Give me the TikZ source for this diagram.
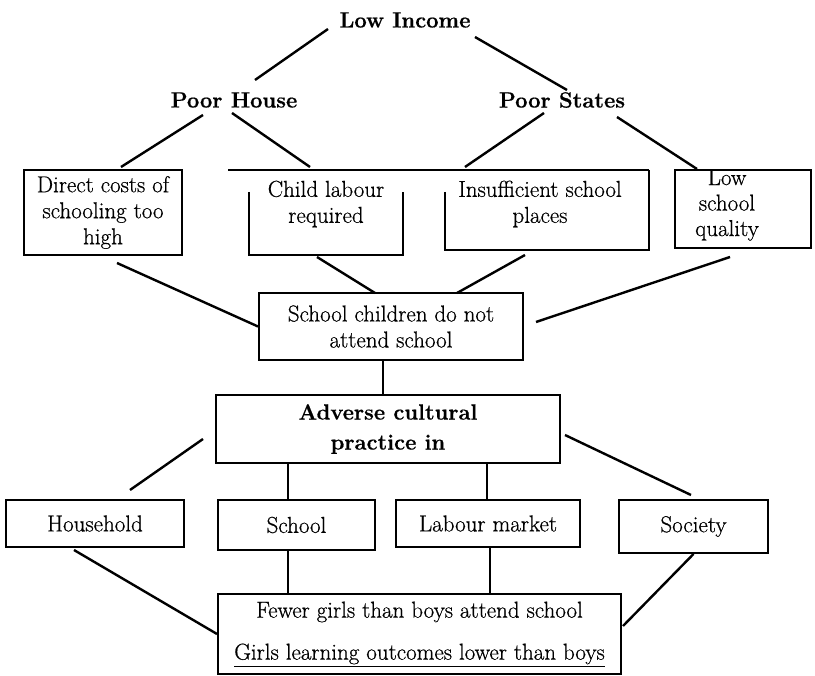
\documentclass[tikz,border=0pt]{standalone}
\usepackage{fontspec}
\newfontfamily\bodyfont{Latin Modern Roman}[FakeBold=0.6]
\begin{document}
\begin{tikzpicture}[x=1pt,y=-1pt,
  every node/.style={font=\bodyfont\fontsize{23}{26}\selectfont, inner sep=0pt},
  head/.style={font=\bodyfont\fontsize{22}{27}\selectfont\bfseries},
  box/.style={draw, line width=2pt, rectangle, align=center},
  conn/.style={line width=2.4pt},
  thin/.style={line width=2pt}]
\useasboundingbox (0,0) rectangle (815,676);
% headings
\node[head] (li) at (405,20) {Low Income};
\node[head] (ph) at (234,100) {Poor House};
\node[head] (ps) at (562,100) {Poor States};
% row 2
\node[box, minimum width=158pt, minimum height=85pt] (direct) at (103,212.5) {Direct costs of\\schooling too\\high};
\node[align=center] (child) at (326,204) {Child labour\\required};
\node[align=center] (ins) at (540,204) {Insufficient school\\places};
\node[draw, line width=2pt, minimum width=136pt, minimum height=78pt] (lowq) at (743,209) {};
\begin{scope}
  \clip (676,171.5) rectangle (811,247);
  \node[align=center, font=\bodyfont\fontsize{23}{25.5}\selectfont] (lowqt) at (727,205) {Low\\school\\quality};
\end{scope}
% partial boxes
\coordinate (tl1) at (228,170);
\coordinate (tl2) at (649,170);
\draw[thin] (tl1) -- (tl2);
\coordinate (cl1) at (249,192);
\coordinate (cl2) at (249,255);
\coordinate (cl3) at (403,255);
\coordinate (cl4) at (403,192);
\draw[thin] (cl1) -- (cl2) -- (cl3) -- (cl4);
\coordinate (is1) at (445,192);
\coordinate (is2) at (445,250);
\coordinate (is3) at (649,250);
\draw[thin] (is1) -- (is2) -- (is3) -- (tl2);
% row 3
\node[box, minimum width=264pt, minimum height=67pt] (sc) at (391,326.5) {School children do not\\attend school};
\node[box, minimum width=344pt, minimum height=68pt, font=\bodyfont\fontsize{22}{30}\selectfont\bfseries] (ad) at (388,429) {Adverse cultural\\practice in};
% row 4
\node[box, minimum width=178pt, minimum height=47pt] (hh) at (95,523.5) {Household};
\node[box, minimum width=157pt, minimum height=50pt] (sch) at (296.5,525) {School};
\node[box, minimum width=184pt, minimum height=47pt] (lab) at (488,523.5) {Labour market};
\node[box, minimum width=149pt, minimum height=53pt] (soc) at (693.5,526.5) {Society};
% bottom
\node[box, minimum width=403pt, minimum height=80pt] (bot) at (419.5,634) {Fewer girls than boys attend school\\[16pt]\underline{Girls learning outcomes lower than boys}};
% connectors top
\coordinate (a1) at (328,29); \coordinate (a2) at (255,80);
\coordinate (b1) at (475,37); \coordinate (b2) at (567,90);
\draw[conn] (a1) -- (a2);
\draw[conn] (b1) -- (b2);
\coordinate (c1) at (203,115); \coordinate (c2) at (121,167);
\coordinate (d1) at (232,113); \coordinate (d2) at (310,167);
\coordinate (e1) at (544,113); \coordinate (e2) at (465,167);
\coordinate (f1) at (617,117); \coordinate (f2) at (697,169);
\draw[conn] (c1) -- (c2);
\draw[conn] (d1) -- (d2);
\draw[conn] (e1) -- (e2);
\draw[conn] (f1) -- (f2);
% to school children
\coordinate (g1) at (117,263);
\draw[conn] (g1) -- (sc.west);
\coordinate (h1) at (317,257); \coordinate (h2) at (375,293);
\draw[conn] (h1) -- (h2);
\coordinate (i1) at (525,255); \coordinate (i2) at (457,293);
\draw[conn] (i1) -- (i2);
\coordinate (j1) at (730,257); \coordinate (j2) at (536,322);
\draw[conn] (j1) -- (j2);
% sc to ad
\coordinate (v1) at (383,0);
\draw[conn] (sc.south -| v1) -- (ad.north -| v1);
% ad to row 4
\coordinate (v2) at (288,0);
\coordinate (v3) at (487,0);
\draw[conn] (ad.south -| v2) -- (sch.north -| v2);
\draw[conn] (ad.south -| v3) -- (lab.north -| v3);
\coordinate (k1) at (203,439); \coordinate (k2) at (130,490);
\draw[conn] (k1) -- (k2);
\coordinate (l1) at (565,435); \coordinate (l2) at (691,495);
\draw[conn] (l1) -- (l2);
% row 4 to bottom
\coordinate (m1) at (74,550);
\draw[conn] (m1) -- (bot.west);
\draw[conn] (sch.south -| v2) -- (bot.north -| v2);
\coordinate (v4) at (490,0);
\draw[conn] (lab.south -| v4) -- (bot.north -| v4);
\coordinate (n2) at (623,626);
\draw[conn] (soc.south) -- (n2);
\end{tikzpicture}
\end{document}
